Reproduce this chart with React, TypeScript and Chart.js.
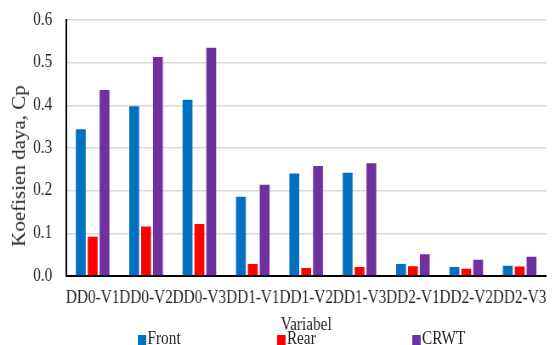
import React, { useEffect, useRef } from "react";
import { Chart, registerables } from "chart.js";

Chart.register(...registerables);

const categories = ["DD0-V1", "DD0-V2", "DD0-V3", "DD1-V1", "DD1-V2", "DD1-V3", "DD2-V1", "DD2-V2", "DD2-V3"];
const frontValues = [0.344, 0.398, 0.413, 0.186, 0.240, 0.242, 0.028, 0.021, 0.024];
const rearValues = [0.092, 0.116, 0.122, 0.028, 0.019, 0.021, 0.023, 0.017, 0.022];
const crwtValues = [0.436, 0.513, 0.535, 0.214, 0.258, 0.264, 0.051, 0.038, 0.045];
const seriesNames = ["Front", "Rear", "CRWT"];
const seriesColors = ["#0070C0", "#FF0000", "#7030A0"];
const yTitle = "Koefisien daya, Cp";
const xTitle = "Variabel";

const FONT = "'Liberation Serif', 'Times New Roman', serif";
const TEXT = "#262626";
const SX = 0.85;
const W = 556;
const H = 345;
const CW = Math.round(W / SX);
const BOTTOM_PAD = 8.5;
const TOP = 20;
const AXIS_Y = 276;

export default function App() {
  const ref = useRef<HTMLCanvasElement | null>(null);
  useEffect(() => {
    if (!ref.current) return;
    const values = [frontValues, rearValues, crwtValues];
    const chart = new Chart(ref.current, {
      type: "bar",
      data: {
        labels: categories,
        datasets: seriesNames.map((name, i) => ({
          label: name,
          data: values[i],
          backgroundColor: seriesColors[i],
          borderWidth: 0,
          categoryPercentage: 0.667,
          barPercentage: 0.83,
        })),
      },
      options: {
        responsive: false,
        animation: false,
        layout: { padding: { left: 0, right: 3, top: TOP, bottom: BOTTOM_PAD } },
        plugins: {
          legend: { display: false },
          tooltip: { enabled: false },
        },
        scales: {
          x: {
            grid: { display: false, drawTicks: false },
            border: { display: true, color: "#000", width: 2 },
            afterFit: (scale: any) => {
              scale.height = H - BOTTOM_PAD - AXIS_Y;
            },
            ticks: {
              color: TEXT,
              font: { family: FONT, size: 18 },
              maxRotation: 0,
              minRotation: 0,
              autoSkip: false,
              padding: 11,
            },
            title: {
              display: true,
              text: xTitle,
              color: TEXT,
              font: { family: FONT, size: 18 },
              padding: { top: 0, bottom: 0 },
            },
          },
          y: {
            min: 0,
            max: 0.6,
            grid: { color: "#D9D9D9", lineWidth: 1.5, drawTicks: false },
            border: { display: true, color: "#000", width: 2 },
            afterFit: (scale: any) => {
              scale.width = 77.6;
              scale.paddingTop = 0;
              scale.paddingBottom = 0;
            },
            ticks: {
              stepSize: 0.1,
              color: TEXT,
              font: { family: FONT, size: 18 },
              padding: 16,
              callback: (v: any) => Number(v).toFixed(1),
            },
            title: { display: false, text: yTitle },
          },
        },
      },
    });
    return () => chart.destroy();
  }, []);

  const legendX = [162, 326, 485];
  return (
    <div style={{ position: "absolute", left: 0, top: 0, width: W, height: H, background: "#fff", overflow: "hidden" }}>
      <div style={{ position: "absolute", left: 0, top: 0, width: CW, height: H, transform: `scaleX(${SX})`, transformOrigin: "0 0" }}>
        <canvas ref={ref} width={CW} height={H} style={{ display: "block" }} />
        <div
          style={{
            position: "absolute",
            left: 23,
            top: 166,
            transform: "translate(-50%, -50%) rotate(-90deg)",
            whiteSpace: "nowrap",
            fontFamily: FONT,
            fontSize: 21,
            lineHeight: "25px",
            color: TEXT,
          }}
        >
          {yTitle}
        </div>
        {seriesNames.map((name, i) => (
          <div
            key={name}
            style={{
              position: "absolute",
              left: legendX[i],
              top: 329,
              height: 18,
              lineHeight: "18px",
              fontFamily: FONT,
              fontSize: 18,
              color: TEXT,
              whiteSpace: "nowrap",
            }}
          >
            <span
              style={{
                display: "inline-block",
                width: 9.5,
                height: 10,
                background: seriesColors[i],
                marginRight: 2,
                verticalAlign: "-1px",
              }}
            />
            {name}
          </div>
        ))}
      </div>
    </div>
  );
}
